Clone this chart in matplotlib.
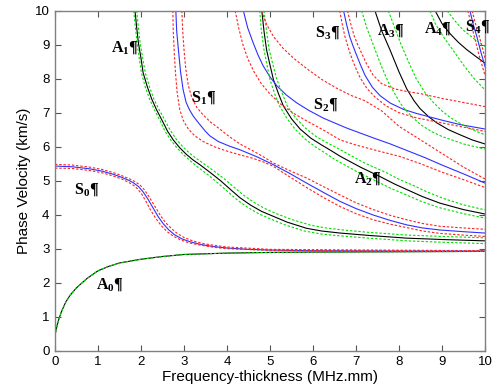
import numpy as np
import matplotlib.pyplot as plt

plt.rcParams['font.family'] = ['Liberation Sans', 'DejaVu Sans']
plt.rcParams['mathtext.fontset'] = 'custom'
plt.rcParams['mathtext.bf'] = 'Liberation Serif:bold'
plt.rcParams['mathtext.rm'] = 'Liberation Serif:bold'

# each curve: list of (frequency-thickness, phase velocity)
a0 = [(0, 0.45), (0.05, 0.75), (0.1, 0.97), (0.15, 1.15), (0.25, 1.43), (0.35, 1.63),
      (0.5, 1.85), (0.75, 2.13), (1.0, 2.35), (1.25, 2.48), (1.5, 2.58), (2.0, 2.69),
      (2.5, 2.77), (3.0, 2.83), (4.0, 2.87), (5.0, 2.89), (6.0, 2.9), (8.0, 2.91),
      (10.0, 2.92)]

s0 = [(0, 5.43), (0.4, 5.41), (0.8, 5.35), (1.1, 5.28), (1.35, 5.19), (1.55, 5.1),
      (1.7, 5.02), (1.82, 4.94), (1.94, 4.83), (2.05, 4.67), (2.17, 4.44), (2.28, 4.2),
      (2.4, 3.94), (2.52, 3.73), (2.64, 3.56), (2.78, 3.41), (2.95, 3.29), (3.15, 3.2),
      (3.4, 3.12), (3.7, 3.06), (4.0, 3.02), (4.5, 2.98), (5.0, 2.96), (6.0, 2.94),
      (8.0, 2.93), (10.0, 2.93)]
s0_lo = [(0, 5.37), (0.4, 5.36), (0.8, 5.3), (1.1, 5.23), (1.35, 5.14), (1.55, 5.05),
         (1.7, 4.96), (1.82, 4.87), (1.92, 4.76), (2.02, 4.6), (2.12, 4.38), (2.23, 4.12),
         (2.35, 3.88), (2.47, 3.68), (2.6, 3.51), (2.75, 3.37), (2.92, 3.26), (3.12, 3.17),
         (3.4, 3.1), (3.7, 3.04), (4.0, 3.0), (5.0, 2.95), (10.0, 2.92)]
s0_hi = [(0, 5.48), (0.4, 5.46), (0.8, 5.4), (1.1, 5.33), (1.35, 5.24), (1.55, 5.15),
         (1.72, 5.06), (1.85, 4.98), (1.97, 4.88), (2.08, 4.73), (2.2, 4.5), (2.32, 4.25),
         (2.45, 3.98), (2.57, 3.77), (2.7, 3.6), (2.84, 3.45), (3.0, 3.33), (3.2, 3.23),
         (3.45, 3.15), (3.75, 3.09), (4.0, 3.05), (5.0, 2.98), (10.0, 2.94)]

a1 = [(1.86, 10), (1.9, 9.5), (1.94, 9.05), (2.0, 8.6), (2.05, 8.17), (2.15, 7.75),
      (2.25, 7.4), (2.36, 7.09), (2.5, 6.75), (2.62, 6.45), (2.75, 6.2), (2.9, 5.97),
      (3.05, 5.78), (3.2, 5.62), (3.37, 5.47), (3.6, 5.25), (3.85, 5.0), (4.1, 4.72),
      (4.3, 4.5), (4.55, 4.28), (4.8, 4.1), (5.08, 3.95), (5.4, 3.78), (5.85, 3.6),
      (6.2, 3.52), (6.63, 3.46), (7.3, 3.39), (8.18, 3.31), (9.0, 3.27), (10, 3.23)]
a1_lo = [(1.83, 10), (1.87, 9.5), (1.91, 9.05), (1.96, 8.6), (2.01, 8.17), (2.1, 7.75),
         (2.2, 7.4), (2.31, 7.09), (2.45, 6.75), (2.56, 6.45), (2.69, 6.2), (2.84, 5.96),
         (3.0, 5.75), (3.15, 5.58), (3.3, 5.42), (3.55, 5.18), (3.8, 4.92), (4.05, 4.64),
         (4.25, 4.42), (4.5, 4.2), (4.75, 4.02), (5.0, 3.88), (5.35, 3.7), (5.8, 3.52),
         (6.2, 3.43), (6.6, 3.38), (7.3, 3.31), (8.2, 3.23), (9.0, 3.19), (10, 3.15)]
a1_hi = [(1.9, 10), (1.94, 9.5), (1.98, 9.05), (2.04, 8.6), (2.1, 8.17), (2.2, 7.75),
         (2.3, 7.4), (2.42, 7.09), (2.56, 6.77), (2.68, 6.48), (2.82, 6.22), (2.97, 6.0),
         (3.12, 5.82), (3.28, 5.66), (3.45, 5.51), (3.68, 5.3), (3.93, 5.06), (4.18, 4.79),
         (4.38, 4.58), (4.63, 4.36), (4.88, 4.18), (5.15, 4.03), (5.5, 3.86), (5.95, 3.69),
         (6.3, 3.61), (6.7, 3.55), (7.3, 3.48), (8.2, 3.4), (9.0, 3.36), (10, 3.32)]

s1 = [(2.81, 10), (2.83, 9.4), (2.87, 8.85), (2.92, 8.2), (2.98, 7.67), (3.05, 7.3),
      (3.13, 7.08), (3.22, 6.89), (3.35, 6.68), (3.5, 6.45), (3.6, 6.32), (3.8, 6.15),
      (4.05, 6.02), (4.3, 5.91), (4.7, 5.7), (5.08, 5.47), (5.45, 5.22), (5.85, 4.93),
      (6.25, 4.65), (6.63, 4.39), (7.0, 4.18), (7.4, 3.99), (7.8, 3.83), (8.18, 3.7),
      (8.55, 3.61), (8.95, 3.55), (9.5, 3.5), (10, 3.46)]
s1_lo = [(2.74, 10), (2.75, 9.4), (2.77, 8.85), (2.8, 8.2), (2.84, 7.6), (2.9, 7.1),
         (2.98, 6.78), (3.1, 6.52), (3.25, 6.32), (3.45, 6.15), (3.7, 6.0), (4.0, 5.87),
         (4.3, 5.76), (4.6, 5.66), (4.85, 5.55), (5.08, 5.42), (5.45, 5.12), (5.85, 4.8),
         (6.25, 4.5), (6.63, 4.24), (7.0, 4.03), (7.4, 3.85), (7.8, 3.72), (8.18, 3.62),
         (8.55, 3.52), (8.95, 3.45), (9.5, 3.4), (10, 3.36)]
s1_hi = [(2.95, 10), (2.97, 9.4), (3.0, 8.85), (3.04, 8.3), (3.1, 7.8), (3.18, 7.45),
         (3.3, 7.15), (3.45, 6.93), (3.62, 6.72), (3.8, 6.55), (4.05, 6.3), (4.3, 6.08),
         (4.6, 5.88), (4.85, 5.7), (5.08, 5.52), (5.45, 5.3), (5.85, 5.08), (6.25, 4.82),
         (6.63, 4.58), (7.0, 4.35), (7.4, 4.15), (7.8, 3.98), (8.18, 3.85), (8.55, 3.74),
         (8.95, 3.66), (9.5, 3.61), (10, 3.57)]

s2 = [(4.38, 10), (4.48, 9.5), (4.61, 9.05), (4.72, 8.7), (4.84, 8.38), (5.0, 8.05),
      (5.16, 7.79), (5.38, 7.52), (5.62, 7.29), (5.9, 7.07), (6.24, 6.84), (6.5, 6.7),
      (6.78, 6.55), (7.1, 6.4), (7.4, 6.26), (7.8, 6.08), (8.2, 5.88), (8.6, 5.68),
      (9.0, 5.46), (9.5, 5.2), (10, 4.93)]
s2_lo = [(4.19, 10), (4.27, 9.5), (4.37, 9.0), (4.48, 8.6), (4.62, 8.22), (4.8, 7.85),
         (5.0, 7.55), (5.25, 7.25), (5.55, 6.98), (5.85, 6.76), (6.2, 6.52), (6.63, 6.2),
         (7.0, 6.05), (7.5, 5.88), (8.0, 5.72), (8.5, 5.5), (9.0, 5.25), (9.5, 5.03),
         (10, 4.8)]
s2_hi = [(4.8, 10), (4.92, 9.6), (5.08, 9.24), (5.3, 8.9), (5.55, 8.6), (5.85, 8.3),
         (6.2, 7.98), (6.55, 7.72), (6.9, 7.5), (7.21, 7.35), (7.6, 7.05), (8.0, 6.6),
         (8.5, 6.2), (9.0, 5.8), (9.5, 5.4), (10, 5.05)]

a2 = [(4.81, 10), (4.86, 9.4), (4.92, 8.85), (5.0, 8.4), (5.08, 7.97), (5.2, 7.55),
      (5.31, 7.2), (5.5, 6.82), (5.7, 6.52), (5.95, 6.25), (6.2, 6.05), (6.4, 5.9),
      (6.63, 5.72), (7.1, 5.4), (7.56, 5.12), (7.9, 4.9), (8.18, 4.74), (8.55, 4.53),
      (8.95, 4.34), (9.5, 4.15), (10, 4.02)]
a2_lo = [(4.76, 10), (4.8, 9.4), (4.86, 8.85), (4.93, 8.4), (5.0, 7.97), (5.11, 7.55),
         (5.22, 7.2), (5.4, 6.82), (5.58, 6.52), (5.82, 6.22), (6.05, 6.0), (6.3, 5.8),
         (6.5, 5.63), (7.0, 5.28), (7.45, 5.0), (7.8, 4.78), (8.1, 4.62), (8.5, 4.4),
         (8.9, 4.22), (9.5, 4.03), (10, 3.9)]
a2_hi = [(4.86, 10), (4.92, 9.4), (4.98, 8.85), (5.07, 8.4), (5.16, 7.97), (5.29, 7.55),
         (5.4, 7.2), (5.6, 6.84), (5.82, 6.55), (6.07, 6.3), (6.32, 6.12), (6.52, 5.99),
         (6.75, 5.83), (7.2, 5.52), (7.7, 5.24), (8.0, 5.04), (8.3, 4.88), (8.65, 4.67),
         (9.05, 4.47), (9.5, 4.29), (10, 4.14)]

s3 = [(6.71, 10), (6.78, 9.6), (6.85, 9.25), (6.92, 9.0), (6.98, 8.8), (7.1, 8.42),
      (7.21, 8.1), (7.38, 7.75), (7.56, 7.5), (7.8, 7.28), (8.1, 7.1), (8.4, 6.98),
      (8.64, 6.9), (9.0, 6.78), (9.42, 6.65), (10, 6.52)]
s3_lo = [(6.62, 10), (6.68, 9.6), (6.74, 9.25), (6.8, 9.0), (6.86, 8.75), (6.98, 8.35),
         (7.1, 8.02), (7.25, 7.72), (7.45, 7.45), (7.7, 7.2), (8.0, 7.0), (8.4, 6.85),
         (8.8, 6.75), (9.4, 6.6), (10, 6.45)]
s3_hi = [(6.8, 10), (6.88, 9.6), (6.96, 9.25), (7.04, 9.0), (7.12, 8.78), (7.24, 8.45),
         (7.4, 8.1), (7.6, 7.85), (7.9, 7.7), (8.2, 7.62), (8.5, 7.56), (9.0, 7.42),
         (9.5, 7.3), (10, 7.18)]

a3 = [(7.44, 10), (7.6, 9.4), (7.79, 8.85), (8.0, 8.2), (8.18, 7.7), (8.35, 7.35),
      (8.49, 7.12), (8.7, 6.87), (8.88, 6.7), (9.15, 6.5), (9.42, 6.35), (9.7, 6.2),
      (10, 6.08)]
a3_lo = [(7.13, 10), (7.25, 9.5), (7.4, 9.0), (7.58, 8.4), (7.75, 7.9), (7.95, 7.45),
         (8.1, 7.15), (8.3, 6.88), (8.5, 6.65), (8.75, 6.45), (9.0, 6.3), (9.5, 6.08),
         (10, 5.93)]
a3_hi = [(7.75, 10), (7.9, 9.5), (8.05, 9.0), (8.22, 8.5), (8.4, 8.0), (8.6, 7.6),
         (8.8, 7.3), (9.0, 7.05), (9.2, 6.85), (9.4, 6.7), (9.6, 6.56), (9.8, 6.45),
         (10, 6.35)]

a4 = [(8.84, 10), (9.0, 9.62), (9.19, 9.32), (9.38, 9.07), (9.57, 8.86), (9.78, 8.66),
      (10, 8.46)]
a4_lo = [(8.72, 10), (8.85, 9.6), (9.05, 9.2), (9.25, 8.85), (9.5, 8.4), (9.75, 8.0),
         (10, 7.67)]
a4_hi = [(9.12, 10), (9.3, 9.7), (9.5, 9.42), (9.75, 9.17), (10, 8.95)]

s4 = [(9.65, 10), (9.72, 9.62), (9.81, 9.24), (9.9, 8.8), (10, 8.36)]
s4_lo = [(9.6, 10), (9.68, 9.6), (9.76, 9.2), (9.86, 8.7), (10, 8.1)]
s4_hi = [(9.7, 10), (9.77, 9.65), (9.86, 9.28), (9.94, 8.9), (10, 8.6)]

labels = ['A$_\\mathbf{0}$¶', 'S$_\\mathbf{0}$¶', 'A$_\\mathbf{1}$¶', 'S$_\\mathbf{1}$¶',
          'S$_\\mathbf{2}$¶', 'A$_\\mathbf{2}$¶', 'S$_\\mathbf{3}$¶', 'A$_\\mathbf{3}$¶',
          'A$_\\mathbf{4}$¶', 'S$_\\mathbf{4}$¶']
label_x = [1.28, 0.74, 1.62, 3.45, 6.3, 7.28, 6.35, 7.8, 8.9, 9.82]
label_y = [1.93, 4.73, 8.9, 7.43, 7.23, 5.03, 9.35, 9.4, 9.44, 9.5]

fig = plt.figure(figsize=(4.92, 3.92), dpi=100)
ax = fig.add_axes([0.1118, 0.1054, 0.874, 0.8673])

dash = (0, (2.2, 1.6))


def draw(curve, **kw):
    c = np.array(curve)
    ax.plot(c[:, 0], c[:, 1], **kw)


for c in [a0, a1, a2, a3, a4]:
    draw(c, color='black', lw=0.8)
for c in [s0, s1, s2, s3, s4]:
    draw(c, color='#3030ff', lw=0.8)
for c in [a0, a1_lo, a1_hi, a2_lo, a2_hi, a3_lo, a3_hi, a4_lo, a4_hi]:
    draw(c, color='#00e000', lw=0.8, linestyle=dash)
for c in [s0_lo, s0_hi, s1_lo, s1_hi, s2_lo, s2_hi, s3_lo, s3_hi, s4_lo, s4_hi]:
    draw(c, color='#ff2020', lw=0.8, linestyle=dash)

for t, x, y in zip(labels, label_x, label_y):
    ax.text(x, y, t, fontsize=11.5, fontfamily='Liberation Serif', fontweight='bold',
            ha='center', va='center')

ax.set_xlim(0, 10)
ax.set_ylim(0, 10)
ax.set_xticks(range(0, 11))
ax.set_yticks(range(0, 11))
ax.tick_params(direction='in', top=True, right=True, labelsize=9.5, length=4,
               color='#555555', pad=4)
for s in ax.spines.values():
    s.set_color('#808080')
    s.set_linewidth(1.0)
ax.set_xlabel('Frequency-thickness (MHz.mm)', fontsize=11, labelpad=1.5)
ax.set_ylabel('Phase Velocity (km/s)', fontsize=11, labelpad=2.5)

fig.savefig('out.png', dpi=100)
